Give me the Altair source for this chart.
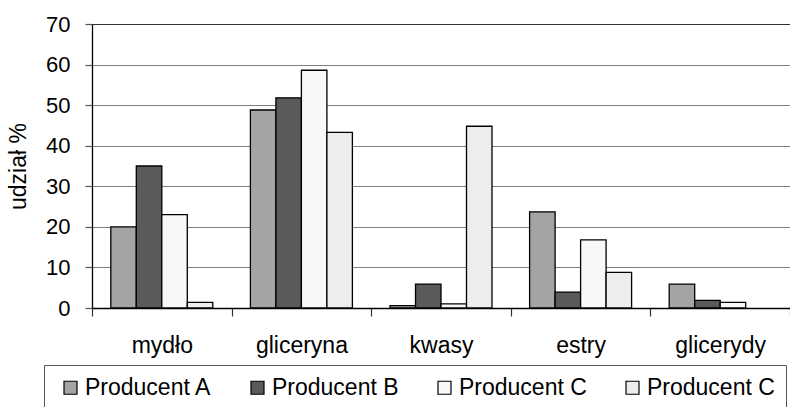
import altair as alt
import pandas as pd

# Udział produktów (%) w mieszaninie dla czterech próbek
categories = ["mydło", "gliceryna", "kwasy", "estry", "glicerydy"]
series = ["A", "B", "C", "D"]
series_labels = ["Producent A", "Producent B", "Producent C", "Producent C"]
series_colors = ["#a4a4a4", "#5a5a5a", "#f8f8f8", "#ededed"]

# None = brak słupka (brak udziału)
values_a = [20.0, 48.8, 0.6, 23.7, 5.9]
values_b = [35.0, 51.8, 5.9, 3.9, 1.9]
values_c = [23.0, 58.6, 1.0, 16.8, 1.4]
values_d = [1.4, 43.3, 44.8, 8.8, None]

y_ticks = [0, 10, 20, 30, 40, 50, 60, 70]

rows = []
for s, vals in zip(series, [values_a, values_b, values_c, values_d]):
    for cat, v in zip(categories, vals):
        if v is not None:
            rows.append({"kategoria": cat, "seria": s, "udzial": v})
df = pd.DataFrame(rows)

# legend text lookup built from the label list
label_expr = " : ".join(
    f"datum.value == '{s}' ? '{lab}'" for s, lab in zip(series, series_labels)
) + " : datum.value"

FONT = "Liberation Sans"

bars = alt.Chart(df).mark_bar(
    stroke="black", strokeWidth=1.3, opacity=1
).encode(
    x=alt.X(
        "kategoria:N",
        sort=categories,
        scale=alt.Scale(domain=categories, paddingInner=0, paddingOuter=0),
        axis=alt.Axis(
            title=None,
            labelAngle=0,
            labelFont=FONT,
            labelFontSize=23,
            labelColor="black",
            labelPadding=18,
            tickBand="extent",
            tickSize=8,
            tickColor="#333333",
            tickWidth=1.2,
            domainColor="black",
            domainWidth=1.3,
            grid=False,
        ),
    ),
    xOffset=alt.XOffset(
        "seria:N",
        sort=series,
        scale=alt.Scale(domain=series, paddingInner=0, paddingOuter=0.7375),
    ),
    y=alt.Y(
        "udzial:Q",
        scale=alt.Scale(domain=[0, 70], nice=False),
        axis=alt.Axis(
            title="udział %",
            titleFont=FONT,
            titleFontSize=23,
            titleFontWeight="normal",
            titleColor="black",
            titleX=-67,
            titleY=142,
            titleBaseline="alphabetic",
            values=y_ticks,
            labelFont=FONT,
            labelFontSize=22,
            labelColor="black",
            labelPadding=15,
            tickSize=7,
            tickColor="#555555",
            tickWidth=1.2,
            domainColor="black",
            domainWidth=1.3,
            grid=True,
            gridColor={
                "condition": {"test": "datum.value == 70", "value": "#333333"},
                "value": "#7f7f7f",
            },
            gridWidth=1.2,
        ),
    ),
    color=alt.Color(
        "seria:N",
        sort=series,
        scale=alt.Scale(domain=series, range=series_colors),
        legend=alt.Legend(
            title=None,
            orient="none",
            legendX=-48,
            legendY=341,
            direction="horizontal",
            columns=4,
            padding=11,
            strokeColor="#555555",
            symbolType="square",
            symbolSize=169,
            symbolStrokeColor="black",
            symbolStrokeWidth=1.2,
            symbolOffset=4,
            labelFont=FONT,
            labelFontSize=23,
            labelColor="black",
            labelOffset=3,
            columnPadding=30,
            labelExpr=label_expr,
        ),
    ),
)

chart = bars.properties(
    width=698,
    height=284,
    autosize=alt.AutoSizeParams(type="none"),
    padding={"left": 92, "top": 24, "right": 0, "bottom": 99},
    background="white",
).configure_view(stroke=None)

chart.save("out.html", embed_options={"renderer": "svg", "actions": False})
